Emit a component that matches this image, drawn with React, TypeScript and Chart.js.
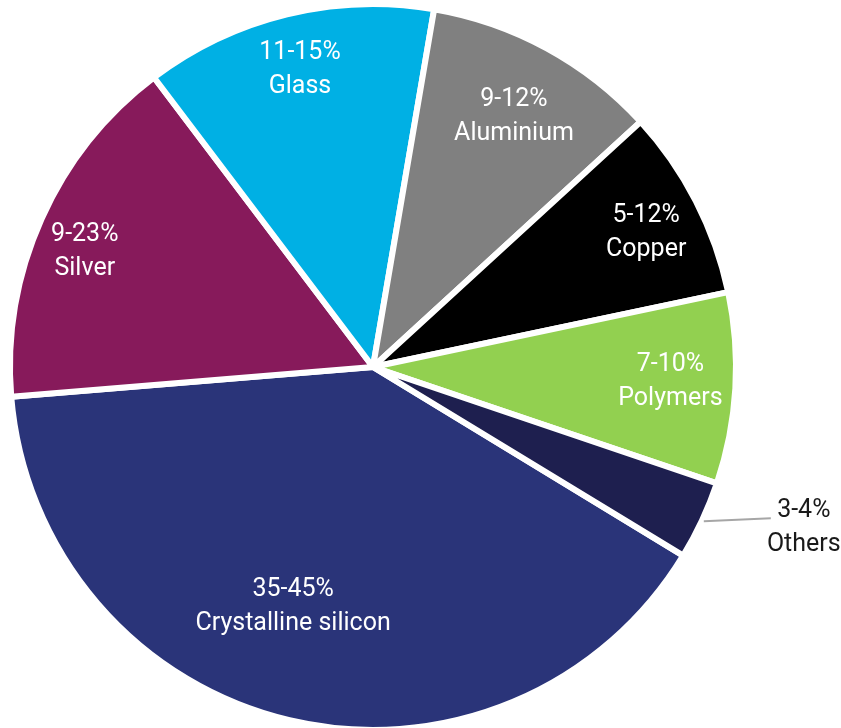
import React, { useEffect, useRef } from "react";
import { Chart, registerables } from "chart.js";

Chart.register(...registerables);

const categories = ["Crystalline silicon", "Silver", "Glass", "Aluminium", "Copper", "Polymers", "Others"];
const rangeLabels = ["35-45%", "9-23%", "11-15%", "9-12%", "5-12%", "7-10%", "3-4%"];
const shares = [40, 16, 13, 10.5, 8.5, 8.5, 3.5];
const sliceColors = ["#2A3479", "#871A5B", "#00B0E4", "#808080", "#000000", "#92D050", "#1E1F4F"];

// label placement style (fraction of radius, angular tweak in degrees, outside flag)
const labelRadius = [0.69, 0.857, 0.849, 0.796, 0.841, 0.82, 1.0];
const labelAngleShift = [5.3, -2, 0, 0.6, 0.7, -0.9, 0];
const labelOutside = [false, false, false, false, false, false, true];

const FONT = "25px Roboto, 'Open Sans', sans-serif";

const labelPlugin = {
  id: "sliceLabels",
  afterDatasetsDraw(chart: any) {
    const ctx = chart.ctx as CanvasRenderingContext2D;
    const meta = chart.getDatasetMeta(0);
    ctx.save();
    ctx.font = FONT;
    ctx.textAlign = "center";
    ctx.textBaseline = "middle";
    meta.data.forEach((arc: any, i: number) => {
      const { x, y, startAngle, endAngle, outerRadius } = arc.getProps(
        ["x", "y", "startAngle", "endAngle", "outerRadius"],
        true
      );
      const mid = (startAngle + endAngle) / 2 + (labelAngleShift[i] * Math.PI) / 180;
      if (!labelOutside[i]) {
        const r = outerRadius * labelRadius[i];
        const cx = x + Math.cos(mid) * r;
        const cy = y + Math.sin(mid) * r;
        ctx.fillStyle = "#FFFFFF";
        ctx.fillText(rangeLabels[i], cx, cy - 15);
        ctx.fillText(categories[i], cx, cy + 19);
      } else {
        const sx = x + Math.cos(mid) * (outerRadius + 2);
        const sy = y + Math.sin(mid) * (outerRadius + 2);
        const ex = sx + 67;
        const ey = sy - 3;
        ctx.strokeStyle = "#A6A6A6";
        ctx.lineWidth = 2;
        ctx.beginPath();
        ctx.moveTo(sx, sy);
        ctx.lineTo(ex, ey);
        ctx.stroke();
        ctx.fillStyle = "#1A1A1A";
        const tx = ex + 33;
        ctx.fillText(rangeLabels[i], tx, sy - 11);
        ctx.fillText(categories[i], tx, sy + 23);
      }
    });
    ctx.restore();
  },
};

export default function App() {
  const ref = useRef<HTMLCanvasElement | null>(null);
  useEffect(() => {
    if (!ref.current) return;
    const chart = new Chart(ref.current, {
      type: "pie",
      data: {
        labels: categories,
        datasets: [
          {
            data: shares,
            backgroundColor: sliceColors,
            borderColor: "#FFFFFF",
            borderWidth: 6,
          },
        ],
      },
      options: {
        responsive: false,
        animation: false,
        rotation: 121.3,
        radius: 363,
        layout: { padding: { top: 6, bottom: 0, left: 0, right: 95 } },
        plugins: {
          legend: { display: false },
          tooltip: { enabled: false },
        },
      } as any,
      plugins: [labelPlugin],
    });
    return () => chart.destroy();
  }, []);
  return (
    <div style={{ position: "fixed", left: 0, top: 0, width: 841, height: 728, background: "#fff" }}>
      <canvas ref={ref} width={841} height={728} style={{ display: "block" }} />
    </div>
  );
}
